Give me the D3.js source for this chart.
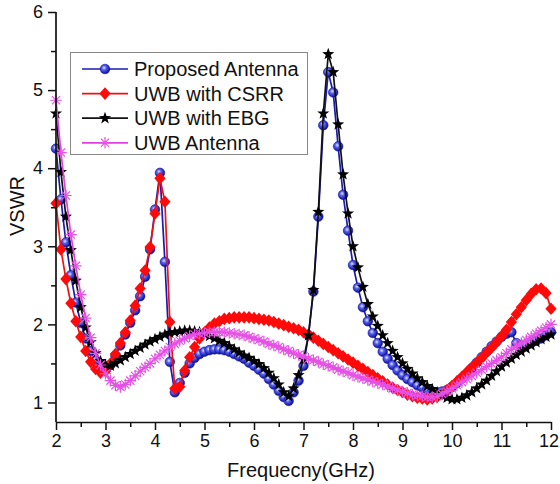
<!DOCTYPE html>
<html>
<head>
<meta charset="utf-8">
<script src="https://cdn.jsdelivr.net/npm/d3@7"></script>
<style>
  html, body { margin: 0; padding: 0; background: #fff; }
  svg { display: block; }
  text { font-family: Arial, "Liberation Sans", sans-serif; fill: #111; }
</style>
</head>
<body>
<svg id="chart" width="560" height="484"></svg>
<script>
// Sweep frequencies (GHz)
const freqs = [
  2.0,2.1,2.2,2.3,2.4,2.5,2.6,2.7,2.8,2.9,
  3.0,3.1,3.2,3.3,3.4,3.5,3.6,3.7,3.8,3.9,
  4.0,4.1,4.2,4.3,4.4,4.5,4.6,4.7,4.8,4.9,
  5.0,5.1,5.2,5.3,5.4,5.5,5.6,5.7,5.8,5.9,
  6.0,6.1,6.2,6.3,6.4,6.5,6.6,6.7,6.8,6.9,
  7.0,7.1,7.2,7.3,7.4,7.5,7.6,7.7,7.8,7.9,
  8.0,8.1,8.2,8.3,8.4,8.5,8.6,8.7,8.8,8.9,
  9.0,9.1,9.2,9.3,9.4,9.5,9.6,9.7,9.8,9.9,
  10.0,10.1,10.2,10.3,10.4,10.5,10.6,10.7,10.8,10.9,
  11.0,11.1,11.2,11.3,11.4,11.5,11.6,11.7,11.8,11.9,
  12.0
];

// VSWR of each antenna at the sweep frequencies
const vswrProposed = [
  4.25,3.60,3.05,2.63,2.28,2.02,1.82,1.66,1.54,1.46,
  1.42,1.48,1.60,1.73,1.87,2.02,2.18,2.36,2.61,2.96,
  3.47,3.94,2.80,1.52,1.13,1.25,1.38,1.50,1.57,1.62,
  1.65,1.67,1.68,1.68,1.67,1.65,1.62,1.59,1.56,1.51,
  1.47,1.42,1.37,1.30,1.23,1.15,1.07,1.02,1.13,1.28,
  1.47,1.86,2.42,3.38,4.55,5.23,4.97,4.28,3.66,3.20,
  2.76,2.47,2.22,2.04,1.89,1.76,1.65,1.56,1.48,1.41,
  1.35,1.30,1.26,1.22,1.19,1.16,1.14,1.13,1.14,1.16,
  1.20,1.25,1.31,1.37,1.44,1.51,1.58,1.65,1.72,1.78,
  1.84,1.88,1.90,1.76,1.73,1.74,1.76,1.79,1.82,1.86,
  1.90
];
const vswrCSRR = [
  3.55,2.96,2.58,2.27,2.04,1.84,1.66,1.52,1.43,1.38,
  1.40,1.50,1.62,1.76,1.90,2.05,2.24,2.46,2.69,2.99,
  3.42,3.87,3.57,2.03,1.18,1.20,1.41,1.58,1.71,1.82,
  1.90,1.96,2.01,2.04,2.07,2.08,2.09,2.09,2.09,2.09,
  2.08,2.07,2.06,2.05,2.03,2.01,1.99,1.97,1.95,1.93,
  1.90,1.87,1.83,1.79,1.75,1.71,1.67,1.63,1.59,1.55,
  1.51,1.47,1.43,1.39,1.35,1.31,1.27,1.23,1.19,1.16,
  1.13,1.10,1.08,1.06,1.05,1.04,1.05,1.07,1.11,1.16,
  1.21,1.27,1.33,1.39,1.45,1.51,1.57,1.64,1.70,1.77,
  1.85,1.93,2.03,2.13,2.22,2.31,2.39,2.45,2.46,2.40,
  2.20
];
const vswrEBG = [
  4.70,3.95,3.38,2.95,2.56,2.22,1.96,1.77,1.63,1.53,
  1.48,1.47,1.50,1.54,1.58,1.62,1.66,1.70,1.74,1.78,
  1.81,1.84,1.87,1.89,1.90,1.91,1.92,1.92,1.91,1.90,
  1.88,1.85,1.82,1.79,1.76,1.72,1.68,1.64,1.60,1.57,
  1.53,1.49,1.44,1.38,1.31,1.23,1.13,1.08,1.18,1.35,
  1.55,1.86,2.44,3.44,4.70,5.46,5.23,4.56,3.92,3.42,
  3.00,2.73,2.48,2.26,2.10,1.98,1.86,1.76,1.66,1.58,
  1.50,1.43,1.37,1.31,1.26,1.21,1.17,1.13,1.09,1.06,
  1.04,1.04,1.06,1.09,1.13,1.18,1.23,1.28,1.34,1.40,
  1.46,1.51,1.56,1.61,1.65,1.69,1.73,1.77,1.81,1.84,
  1.87
];
const vswrUWB = [
  4.87,4.20,3.65,3.15,2.75,2.38,2.08,1.83,1.63,1.48,
  1.37,1.28,1.22,1.20,1.23,1.28,1.34,1.40,1.45,1.50,
  1.56,1.61,1.66,1.71,1.75,1.79,1.82,1.85,1.87,1.88,
  1.89,1.90,1.90,1.90,1.90,1.89,1.88,1.87,1.86,1.84,
  1.82,1.80,1.78,1.75,1.73,1.71,1.68,1.66,1.63,1.61,
  1.59,1.56,1.54,1.52,1.49,1.47,1.45,1.42,1.40,1.38,
  1.35,1.33,1.31,1.29,1.27,1.25,1.23,1.21,1.18,1.16,
  1.14,1.12,1.10,1.09,1.08,1.07,1.07,1.08,1.11,1.14,
  1.18,1.22,1.26,1.30,1.34,1.38,1.42,1.46,1.50,1.54,
  1.58,1.63,1.68,1.72,1.76,1.80,1.84,1.88,1.92,1.96,
  2.00
];

const seriesNames = ["Proposed Antenna", "UWB with CSRR", "UWB with EBG", "UWB Antenna"];
const xTicks = [2,3,4,5,6,7,8,9,10,11,12];
const yTicks = [1,2,3,4,5,6];

const svg = d3.select("#chart");

// Shaded sphere for the circle markers
const defs = svg.append("defs");
const grad = defs.append("radialGradient")
  .attr("id", "ball").attr("cx", "0.4").attr("cy", "0.38").attr("r", "0.62");
grad.append("stop").attr("offset", "0").attr("stop-color", "#e8ecff");
grad.append("stop").attr("offset", "0.35").attr("stop-color", "#5a64f0");
grad.append("stop").attr("offset", "1").attr("stop-color", "#0a0a9a");

const x = d3.scaleLinear().domain([2, 12]).range([56, 551]);
const y = d3.scaleLinear().domain([0.75, 6]).range([422, 12]);

// Marker shapes
const diamondPath = "M0,-6.3L5.6,0L0,6.3L-5.6,0Z";
const starPath = (() => {
  const pts = [];
  for (let i = 0; i < 10; i++) {
    const r = i % 2 === 0 ? 6.4 : 2.6;
    const a = -Math.PI / 2 + i * Math.PI / 5;
    pts.push([r * Math.cos(a), r * Math.sin(a)]);
  }
  return "M" + pts.map(p => p[0].toFixed(2) + "," + p[1].toFixed(2)).join("L") + "Z";
})();
const asteriskPath = (() => {
  let s = "";
  for (let i = 0; i < 4; i++) {
    const a = i * Math.PI / 4;
    const dx = 5.8 * Math.cos(a), dy = 5.8 * Math.sin(a);
    s += `M${(-dx).toFixed(2)},${(-dy).toFixed(2)}L${dx.toFixed(2)},${dy.toFixed(2)}`;
  }
  return s;
})();

const series = [
  { name: seriesNames[0], values: vswrProposed, line: "#1a1ab0", kind: "ball" },
  { name: seriesNames[1], values: vswrCSRR, line: "#f01010", kind: "diamond", fill: "#ff0a0a" },
  { name: seriesNames[2], values: vswrEBG, line: "#111111", kind: "star", fill: "#000" },
  { name: seriesNames[3], values: vswrUWB, line: "#e040e0", kind: "asterisk", fill: "#e651e6" }
];

function drawMarker(g, kind, fill) {
  if (kind === "ball") {
    g.append("circle").attr("r", 4.8).attr("fill", "url(#ball)")
      .attr("stroke", "#1010a0").attr("stroke-width", 0.6);
  } else if (kind === "diamond") {
    g.append("path").attr("d", diamondPath).attr("fill", fill);
  } else if (kind === "star") {
    g.append("path").attr("d", starPath).attr("fill", fill);
  } else {
    g.append("path").attr("d", asteriskPath).attr("stroke", fill)
      .attr("stroke-width", 1.2).attr("fill", "none");
  }
}

const line = d3.line().x((d, i) => x(freqs[i])).y(d => y(d));

const plot = svg.append("g");
series.forEach(s => {
  const g = plot.append("g");
  g.append("path").datum(s.values).attr("d", line)
    .attr("fill", "none").attr("stroke", s.line).attr("stroke-width", 1.7);
  s.values.forEach((v, i) => {
    const m = g.append("g").attr("transform", `translate(${x(freqs[i])},${y(v)})`);
    drawMarker(m, s.kind, s.fill);
  });
});

// Axes
const xAxis = svg.append("g").attr("transform", "translate(0,422)")
  .call(d3.axisBottom(x).tickValues(xTicks).tickFormat(d3.format("d")).tickSize(8).tickSizeOuter(0).tickPadding(4));
const xMinor = svg.append("g").attr("transform", "translate(0,422)")
  .call(d3.axisBottom(x).tickValues(xTicks.slice(0, -1).map(t => t + 0.5)).tickFormat("").tickSize(5).tickSizeOuter(0));
const yAxis = svg.append("g").attr("transform", "translate(56,0)")
  .call(d3.axisLeft(y).tickValues(yTicks).tickFormat(d3.format("d")).tickSize(8).tickSizeOuter(0).tickPadding(5));
const yMinor = svg.append("g").attr("transform", "translate(56,0)")
  .call(d3.axisLeft(y).tickValues(yTicks.slice(0, -1).map(t => t + 0.5)).tickFormat("").tickSize(5).tickSizeOuter(0));

[xAxis, xMinor, yAxis, yMinor].forEach(a => {
  a.select(".domain").attr("stroke", "#111").attr("stroke-width", 1.7);
  a.selectAll(".tick line").attr("stroke", "#111").attr("stroke-width", 1.5);
  a.selectAll(".tick text").attr("font-size", 18).attr("fill", "#111")
    .attr("font-family", "Arial, 'Liberation Sans', sans-serif");
});
xMinor.select(".domain").remove();
yMinor.select(".domain").remove();
// y axis line runs from the bottom axis up to 6
yAxis.select(".domain").attr("d", `M0,${y(0.75)}V${y(6)}`);
// keep the last x label inside the page
xAxis.selectAll(".tick text").filter(d => d === 12).attr("dx", -2.5);

// Axis titles
svg.append("text").attr("x", 301).attr("y", 477).attr("text-anchor", "middle")
  .attr("font-size", 20).text("Frequecny(GHz)");
svg.append("text").attr("transform", "translate(24,206) rotate(-90)")
  .attr("text-anchor", "middle").attr("font-size", 20).text("VSWR");

// Legend
const legend = svg.append("g");
legend.append("rect").attr("x", 70.5).attr("y", 52.5).attr("width", 237).attr("height", 102)
  .attr("fill", "#fff").attr("stroke", "#888").attr("stroke-width", 1);
series.forEach((s, i) => {
  const cy = 69 + i * 24.6;
  legend.append("line").attr("x1", 82).attr("x2", 128).attr("y1", cy).attr("y2", cy)
    .attr("stroke", s.line).attr("stroke-width", 1.7);
  const m = legend.append("g").attr("transform", `translate(105,${cy})`);
  drawMarker(m, s.kind, s.fill);
  legend.append("text").attr("x", 134).attr("y", cy + 7).attr("font-size", 20).text(s.name);
});
</script>
</body>
</html>
